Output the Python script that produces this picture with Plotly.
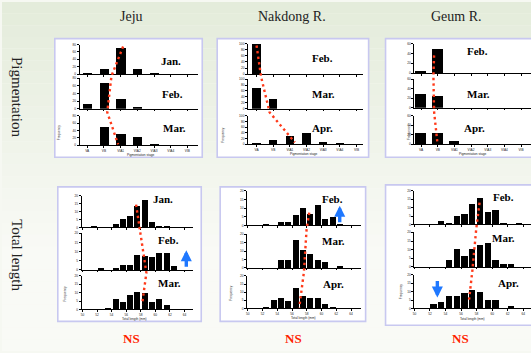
import plotly.graph_objects as go

# ---------------- data ----------------
columns = ["Jeju", "Nakdong R.", "Geum R."]
rows = ["Pigmentation", "Total length"]
sig_labels = ["NS", "NS", "NS"]

pig_stages = ["VA", "VB", "VIA1", "VIA2", "VIA3", "VIA4", "VIB"]
tl_tick_labels = ["50", "52", "54", "56", "58", "60", "62", "64"]

jeju_months = ["Jan.", "Feb.", "Mar."]
nak_months = ["Feb.", "Mar.", "Apr."]
geum_months = ["Feb.", "Mar.", "Apr."]

# pigmentation-stage frequency (%)
jeju_pig_jan = [4, 15, 72, 14, 3, 0, 0]
jeju_pig_feb = [11, 66, 25, 5, 0, 0, 0]
jeju_pig_mar = [0, 49, 32, 23, 3, 0, 0]

nak_pig_feb = [100, 1, 0, 0, 0, 0, 0]
nak_pig_mar = [69, 32, 0, 0, 0, 0, 0]
nak_pig_apr = [3, 15, 32, 42, 11, 4, 0]

geum_pig_feb = [6, 49, 0, 0, 0, 0, 0]
geum_pig_mar = [29, 25, 0, 0, 0, 0, 0]
geum_pig_apr = [24, 24, 8, 0, 0, 0, 0]

# total-length frequency (%), 15 bins
jeju_tl_jan = [0, 0.6, 0, 0, 2.3, 5.4, 7.3, 13.5, 17.3, 3.5, 0.8, 0.8, 0, 0, 0]
jeju_tl_feb = [0, 0, 0.9, 0, 0.9, 2.7, 2.7, 8.2, 7.3, 7.1, 9.3, 9.3, 2.0, 0, 0]
jeju_tl_mar = [0, 0, 0, 1.1, 6.6, 4.5, 8.5, 10.6, 9.6, 4.5, 6.4, 2.5, 0, 0, 0]

nak_tl_feb = [0, 0, 1.0, 0, 1.9, 1.9, 6.2, 10.0, 6.7, 11.9, 3.8, 5.0, 1.0, 0, 0]
nak_tl_mar = [0, 0, 0, 0, 4.5, 4.5, 16.5, 10.5, 8.3, 4.5, 3.1, 0, 0.8, 0, 0]
nak_tl_apr = [0, 0, 0.9, 5.0, 6.4, 4.7, 12.5, 7.5, 6.4, 6.4, 2.6, 1.1, 0, 0, 0]

geum_tl_feb = [0, 0, 0, 2.4, 1.2, 5.1, 6.3, 12.5, 16.1, 7.6, 8.6, 1.2, 0, 1.2, 0]
geum_tl_mar = [0, 0, 0, 0, 3.9, 10.3, 6.0, 10.3, 12.6, 13.8, 3.9, 1.6, 1.6, 0, 0]
geum_tl_apr = [0, 0, 2.7, 3.8, 7.7, 7.7, 9.0, 11.3, 10.0, 5.4, 5.4, 0, 1.3, 0, 0]

# trend of mean position (x units): start, month1->2, month2->3, end
jeju_pig_trend = [2.15, 1.45, 1.2, 1.85]
nak_pig_trend = [0.0, 0.27, 0.78, 2.3]
geum_pig_trend = [0.78, 0.74, 0.78, 0.97]
jeju_tl_trend = [6.86, 7.36, 8.27, 7.68]
nak_tl_trend = [7.83, 7.47, 7.11, 6.48]
geum_tl_trend = [7.88, 7.46, 6.95, 6.52]

# ---------------- layout config ----------------
W, H = 531, 353
def fx(p): return p / W
def fy(p): return 1 - p / H

SERIF = "Liberation Serif, Times New Roman, serif"

panels = [
    dict(kind="pig", months=jeju_months, data=[jeju_pig_jan, jeju_pig_feb, jeju_pig_mar], trend=jeju_pig_trend,
         box=(53, 37, 201, 157), xa=(78, 197), subs=[(43, 73), (77, 108), (115, 145)],
         xr=(-0.45, 6.65), ymax=80, dtick=20, bw=0.55,
         lab=[(170, 60), (171, 93), (173, 127)], ty=[45, 75, 111.5, 144],
         ytitle=(57, 132), xtitle=(140, 154.5), xt="Pigmentation stage"),
    dict(kind="pig", months=nak_months, data=[nak_pig_feb, nak_pig_mar, nak_pig_apr], trend=nak_pig_trend,
         box=(216, 37, 368, 157), xa=(247, 362), subs=[(42, 73), (78, 108), (115, 144)],
         xr=(-0.51, 6.37), ymax=100, dtick=20, bw=0.5,
         lab=[(322, 57), (323, 93), (322, 127)], ty=[44, 75.5, 111.5, 142],
         ytitle=(222, 135), xtitle=(303, 154), xt="Pigmentation stage"),
    dict(kind="pig", months=geum_months, data=[geum_pig_feb, geum_pig_mar, geum_pig_apr], trend=geum_pig_trend,
         box=(385, 37, 533, 157), xa=(414, 531), subs=[(42, 72), (78, 107), (115, 144)],
         xr=(-0.4, 6.6), ymax=60, dtick=20, bw=0.65,
         lab=[(477, 50), (478, 93), (474, 127)], ty=[54, 75, 111, 141],
         ytitle=(408, 132), xtitle=(473, 154), xt="Pigmentation stage"),
    dict(kind="tl", months=jeju_months, data=[jeju_tl_jan, jeju_tl_feb, jeju_tl_mar], trend=jeju_tl_trend,
         box=(56, 187, 200, 323), xa=(80, 192), subs=[(196, 228), (234, 271), (277, 311)],
         xr=(-0.6, 14.7), ymax=20, dtick=5, bw=0.82,
         lab=[(162, 199), (167, 241), (168, 284)], ty=[205, 231, 274, 306],
         ytitle=(63, 295), xtitle=(133, 320.5), xt="Total length (mm)"),
    dict(kind="tl", months=nak_months, data=[nak_tl_feb, nak_tl_mar, nak_tl_apr], trend=nak_tl_trend,
         box=(219, 187, 365, 323), xa=(246, 360), subs=[(191, 226), (235, 269), (277, 310)],
         xr=(-0.6, 14.8), ymax=20, dtick=5, bw=0.82,
         lab=[(332, 199), (333, 242), (333, 285)], ty=[213, 230, 273, 309],
         ytitle=(230, 295), xtitle=(303, 320), xt="Total length (mm)"),
    dict(kind="tl", months=geum_months, data=[geum_tl_feb, geum_tl_mar, geum_tl_apr], trend=geum_tl_trend,
         box=(385, 185, 533, 327), xa=(414, 531), subs=[(191, 225), (233, 268), (276, 310)],
         xr=(-0.5, 14.5), ymax=20, dtick=5, bw=0.82,
         lab=[(503, 197), (503, 239), (508, 284)], ty=[203, 229, 272, 302],
         ytitle=(400, 293), xtitle=(472, 320.5), xt="Total length (mm)"),
]

fig = go.Figure()
layout = {}
shapes = []
annotations = []

def note(px, py, text, font, **kw):
    d = dict(x=fx(px), y=fy(py), xref="paper", yref="paper", text=text, showarrow=False,
             xanchor="center", yanchor="middle", font=font)
    d.update(kw)
    annotations.append(d)

# background gradient bands
N = 30
c0 = (228, 236, 219)
c1 = (249, 250, 246)
for i in range(N):
    t = min(1.0, i / (N * 0.7))
    c = tuple(int(round(c0[k] + (c1[k] - c0[k]) * t)) for k in range(3))
    shapes.append(dict(type="rect", xref="paper", yref="paper", layer="below",
                       x0=0, x1=1, y0=1 - (i + 1) / N, y1=1 - i / N,
                       fillcolor="rgb(%d,%d,%d)" % c, line=dict(width=0)))

ax_id = [0]
def new_axes():
    ax_id[0] += 1
    n = ax_id[0]
    s = "" if n == 1 else str(n)
    return "x" + s, "y" + s, "xaxis" + s, "yaxis" + s

tick_font = dict(size=3.2, color="#222", family="Arial")
small_font = dict(size=3.2, color="#222", family="Arial")

for p in panels:
    bx0, by0, bx1, by1 = p["box"]
    shapes.append(dict(type="rect", xref="paper", yref="paper", layer="below",
                       x0=fx(bx0), x1=fx(bx1), y0=fy(by1), y1=fy(by0),
                       fillcolor="white", line=dict(color="#c8c8f0", width=1.6)))
    nbars = len(p["data"][0])
    xs = list(range(nbars))
    for j, (vals, (t, b)) in enumerate(zip(p["data"], p["subs"])):
        xa, ya, xk, yk = new_axes()
        fig.add_trace(go.Bar(x=xs, y=vals, width=p["bw"], marker=dict(color="black", line=dict(width=0)),
                             xaxis=xa, yaxis=ya, showlegend=False, hoverinfo="x+y"))
        last = (j == 2)
        if p["kind"] == "pig":
            tv, tt = xs, pig_stages
        else:
            tv = [-0.5 + 2 * k for k in range(len(tl_tick_labels))]
            tt = tl_tick_labels
        layout[xk] = dict(domain=[fx(p["xa"][0]), min(1, fx(p["xa"][1]))], anchor=ya, range=list(p["xr"]),
                          showline=True, linecolor="black", linewidth=1, ticks="outside", ticklen=1.5,
                          tickwidth=0.8, tickcolor="black", tickvals=tv, ticktext=tt,
                          showticklabels=last, tickfont=tick_font, showgrid=False, zeroline=False,
                          fixedrange=True)
        layout[yk] = dict(domain=[fy(b), fy(t)], anchor=xa, range=[0, p["ymax"]],
                          showline=True, linecolor="black", linewidth=1, ticks="outside", ticklen=2,
                          tickwidth=0.8, tickcolor="black", dtick=p["dtick"], tick0=0,
                          tickfont=tick_font, showgrid=False, zeroline=False, fixedrange=True)
        lx, ly = p["lab"][j]
        note(lx, ly, "<b>%s</b>" % p["months"][j], dict(family=SERIF, size=11, color="black"))
    # overlay axis for the dotted trend line (y in pixel units of the panel)
    xa, ya, xk, yk = new_axes()
    top_px, bot_px = p["subs"][0][0], p["subs"][2][1]
    fig.add_trace(go.Scatter(x=p["trend"], y=p["ty"], mode="lines", xaxis=xa, yaxis=ya,
                             line=dict(color="#ff3a1a", width=2.4, dash="2.4px,3.2px"),
                             showlegend=False, hoverinfo="skip"))
    layout[xk] = dict(domain=[fx(p["xa"][0]), min(1, fx(p["xa"][1]))], anchor=ya, range=list(p["xr"]),
                      visible=False, fixedrange=True)
    layout[yk] = dict(domain=[fy(bot_px), fy(top_px)], anchor=xa, range=[bot_px, top_px],
                      visible=False, fixedrange=True)
    # small axis titles
    note(*p["ytitle"], "Frequency", small_font, textangle=-90)
    note(*p["xtitle"], p["xt"], small_font)

# column titles
for name, cx in zip(columns, [130, 291, 456]):
    note(cx, 15, name, dict(family=SERIF, size=14, color="#222"))
# row titles
for name, cy in zip(rows, [96, 256]):
    note(15, cy, name, dict(family=SERIF, size=15, color="#222"), textangle=90)
# significance labels
for name, cx in zip(sig_labels, [130, 293, 460]):
    note(cx, 340, "<b>%s</b>" % name, dict(family=SERIF, size=13, color="#ff2200"))
# blue arrows
for (axp, ayp, dy) in [(185, 251, 18), (339, 206, 18), (437, 299, -18)]:
    annotations.append(dict(x=fx(axp), y=fy(ayp), xref="paper", yref="paper", text="", showarrow=True,
                            ax=0, ay=dy, arrowhead=2, arrowsize=0.65, arrowwidth=3.4, arrowcolor="#1f78ff"))

layout.update(dict(width=W, height=H, margin=dict(l=0, r=0, t=0, b=0),
                   paper_bgcolor="rgb(246,248,242)", plot_bgcolor="rgba(0,0,0,0)",
                   shapes=shapes, annotations=annotations, showlegend=False, bargap=0))
fig.update_layout(**layout)
fig.write_html("out.html", config={"displayModeBar": False},
               post_script="document.body.style.margin='0px';document.body.style.overflow='hidden';")
